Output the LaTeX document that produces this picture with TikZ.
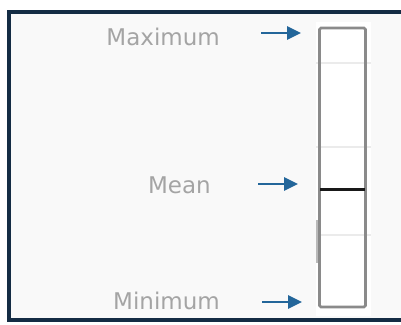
\documentclass[tikz,border=0pt]{standalone}
\usepackage{fontspec}
\setmainfont{DejaVu Sans}
\usetikzlibrary{arrows.meta}
\definecolor{framec}{HTML}{142C44}
\definecolor{bgc}{HTML}{F9F9F9}
\definecolor{txtc}{HTML}{A4A4A4}
\definecolor{arrc}{HTML}{23669A}
\definecolor{barc}{HTML}{8A8A8A}
\definecolor{gridc}{HTML}{EBEBEB}
\tikzset{
  lbl/.style={text=txtc, font=\fontsize{23}{25}\selectfont, anchor=east, inner sep=0pt},
  ptr/.style={draw=arrc, line width=2.8pt, -{Triangle[length=14pt,width=13pt]}},
  gridln/.style={draw=gridc, line width=1.2pt},
}
\begin{document}
\begin{tikzpicture}[x=1pt,y=-1pt]
\useasboundingbox (0,0) rectangle (401,324);
\fill[white] (0,0) rectangle (401,324);
\fill[bgc] (9,12) rectangle (410,320);
\draw[framec, line width=3.2pt] (9,12) rectangle (410,320);
% white strip behind bar
\fill[white] (316,22) rectangle (371,316);
% grid lines
\draw[gridln] (316,63) -- (371,63);
\draw[gridln] (316,147) -- (371,147);
\draw[gridln] (316,235) -- (371,235);
% small side mark
\draw[draw=barc!60, line width=1.4pt] (317,220) -- (317,263);
% bar
\node[draw=barc, line width=2.8pt, rounded corners=1.5pt, fill=white, minimum width=46pt, minimum height=279pt, inner sep=0pt] (bar) at (342.5,167.5) {};
\draw[gridln] (321,63) -- (364,63);
\draw[gridln] (321,147) -- (364,147);
\draw[gridln] (321,235) -- (364,235);
\coordinate (meanL) at (320,189);
\coordinate (meanR) at (365,189);
\draw[black!90, line width=3pt] (meanL) -- (meanR);
% labels
\node[lbl] (max) at (220,37) {Maximum};
\node[lbl] (mean) at (211,185) {Mean};
\node[lbl] (min) at (220,301) {Minimum};
% arrows
\coordinate (a1s) at (261,33);
\coordinate (a1e) at (301,33);
\coordinate (a2s) at (258,184);
\coordinate (a2e) at (298,184);
\coordinate (a3s) at (262,302);
\coordinate (a3e) at (302,302);
\draw[ptr] (a1s) -- (a1e);
\draw[ptr] (a2s) -- (a2e);
\draw[ptr] (a3s) -- (a3e);
\end{tikzpicture}
\end{document}
